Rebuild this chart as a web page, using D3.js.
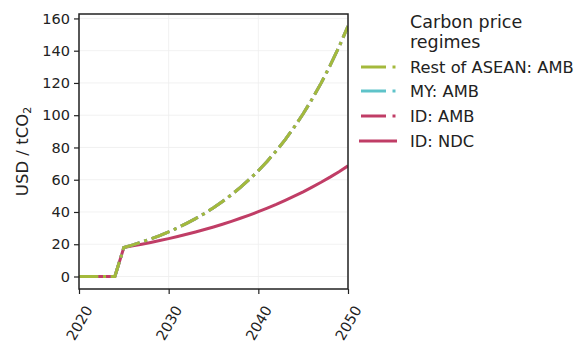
<!DOCTYPE html>
<html><head><meta charset="utf-8">
<script src="https://cdn.jsdelivr.net/npm/d3@7"></script>
<style>body{margin:0;background:#fff;} text{font-family:"DejaVu Sans",sans-serif;fill:#222;}</style>
</head><body><svg id="c" width="579" height="342"></svg>
<script>
const years = [2020,2021,2022,2023,2024,2025,2026,2027,2028,2029,2030,2031,2032,2033,2034,2035,2036,2037,2038,2039,2040,2041,2042,2043,2044,2045,2046,2047,2048,2049,2050];
const aseanAmb = [0,0,0,0,0,18,19.6,21.4,23.3,25.4,27.7,30.2,32.9,35.9,39.1,42.6,46.5,50.7,55.2,60.2,65.6,71.5,77.9,84.9,92.6,100.9,110.0,119.9,130.7,142.4,155.2];
const myAmb = [0,0,0,0,0,18,19.6,21.4,23.3,25.4,27.7,30.2,32.9,35.9,39.1,42.6,46.5,50.7,55.2,60.2,65.6,71.5,77.9,84.9,92.6,100.9,110.0,119.9,130.7,142.4,155.2];
const idAmb = [0,0,0,0,0,18,19.6,21.4,23.3,25.4,27.7,30.2,32.9,35.9,39.1,42.6,46.5,50.7,55.2,60.2,65.6,71.5,77.9,84.9,92.6,100.9,110.0,119.9,130.7,142.4,155.2];
const idNdc = [0,0,0,0,0,18,19.0,20.0,21.1,22.3,23.5,24.8,26.2,27.6,29.1,30.7,32.4,34.2,36.1,38.1,40.2,42.4,44.7,47.2,49.8,52.5,55.4,58.4,61.6,65.0,68.6];
const yTicks = [0,20,40,60,80,100,120,140,160];
const xTicks = [2020,2030,2040,2050];
const legendTitle = ["Carbon price","regimes"];
const seriesNames = ["Rest of ASEAN: AMB","MY: AMB","ID: AMB","ID: NDC"];

const colors = {asean:"#a4b93c", my:"#5ec3c9", id:"#c03d66"};
const svg = d3.select("#c");
const L=79,R=348,T=14,B=289;
const x = d3.scaleLinear().domain([2020,2050]).range([L,R]);
const y = d3.scaleLinear().domain([-7.75,162.75]).range([B,T]);

// grid
svg.append("g").selectAll("line").data(yTicks).join("line")
  .attr("x1",L).attr("x2",R).attr("y1",d=>y(d)).attr("y2",d=>y(d))
  .attr("stroke","#ededed").attr("stroke-width",0.8);
svg.append("g").selectAll("line").data(xTicks).join("line")
  .attr("y1",T).attr("y2",B).attr("x1",d=>x(d)).attr("x2",d=>x(d))
  .attr("stroke","#ededed").attr("stroke-width",0.8);

const line = vals => d3.line().x((d,i)=>x(years[i])).y(d=>y(d))(vals);
const dashdot = "19.2,4.8,3,4.8";
const series = [
  {v:idNdc,c:colors.id,dash:null},
  {v:idAmb,c:colors.id,dash:dashdot},
  {v:myAmb,c:colors.my,dash:dashdot},
  {v:aseanAmb,c:colors.asean,dash:dashdot}
];
svg.append("clipPath").attr("id","clp").append("rect").attr("x",L).attr("y",T).attr("width",R-L).attr("height",B-T);
series.forEach(s=>{
  svg.append("path").attr("d",line(s.v)).attr("fill","none").attr("stroke",s.c)
    .attr("stroke-width",3).attr("stroke-dasharray",s.dash).attr("clip-path","url(#clp)");
});

// frame
svg.append("rect").attr("x",L).attr("y",T).attr("width",R-L).attr("height",B-T)
  .attr("fill","none").attr("stroke","#222").attr("stroke-width",1.5);

// y axis
const ya = svg.append("g").attr("transform",`translate(${L},0)`)
  .call(d3.axisLeft(y).tickValues(yTicks).tickSize(5).tickPadding(4));
ya.select(".domain").remove();
ya.selectAll("line").attr("stroke","#222").attr("stroke-width",1.2);
ya.selectAll("text").attr("font-size",14.5).style("fill","#222").attr("font-family","DejaVu Sans");

// x axis
const xa = svg.append("g").attr("transform",`translate(0,${B})`)
  .call(d3.axisBottom(x).tickValues(xTicks).tickSize(5).tickFormat(d3.format("d")));
xa.select(".domain").remove();
xa.selectAll("line").attr("stroke","#222").attr("stroke-width",1.2);
xa.selectAll("text").attr("font-size",14.5).style("fill","#222").attr("font-family","DejaVu Sans")
  .attr("text-anchor","middle").attr("dy",null).attr("y",null)
  .attr("dominant-baseline","central")
  .attr("transform","translate(0,34) rotate(-60)");

// y label
const yl = svg.append("text").attr("transform",`translate(28,${(T+B)/2}) rotate(-90)`)
  .attr("text-anchor","middle").attr("font-size",16.5);
yl.append("tspan").text("USD / tCO");
yl.append("tspan").text("2").attr("font-size",11).attr("dy",3);

// legend
legendTitle.forEach((t,i)=>{
  svg.append("text").attr("x",410).attr("y",28+i*20).attr("font-size",17.5).text(t);
});
const legItems = [
  {n:seriesNames[0],c:colors.asean,dash:true},
  {n:seriesNames[1],c:colors.my,dash:true},
  {n:seriesNames[2],c:colors.id,dash:true},
  {n:seriesNames[3],c:colors.id,dash:false}
];
const ly = [67,91,116,141];
legItems.forEach((d,i)=>{
  const g = svg.append("g");
  if(d.dash){
    g.append("line").attr("x1",361).attr("x2",386).attr("y1",ly[i]).attr("y2",ly[i]).attr("stroke",d.c).attr("stroke-width",3);
    g.append("line").attr("x1",392.5).attr("x2",395.5).attr("y1",ly[i]).attr("y2",ly[i]).attr("stroke",d.c).attr("stroke-width",3);
  } else {
    g.append("line").attr("x1",359).attr("x2",397).attr("y1",ly[i]).attr("y2",ly[i]).attr("stroke",d.c).attr("stroke-width",3);
  }
  g.append("text").attr("x",410).attr("y",ly[i]).attr("dominant-baseline","central").attr("font-size",16.3).text(d.n);
});
</script></body></html>
